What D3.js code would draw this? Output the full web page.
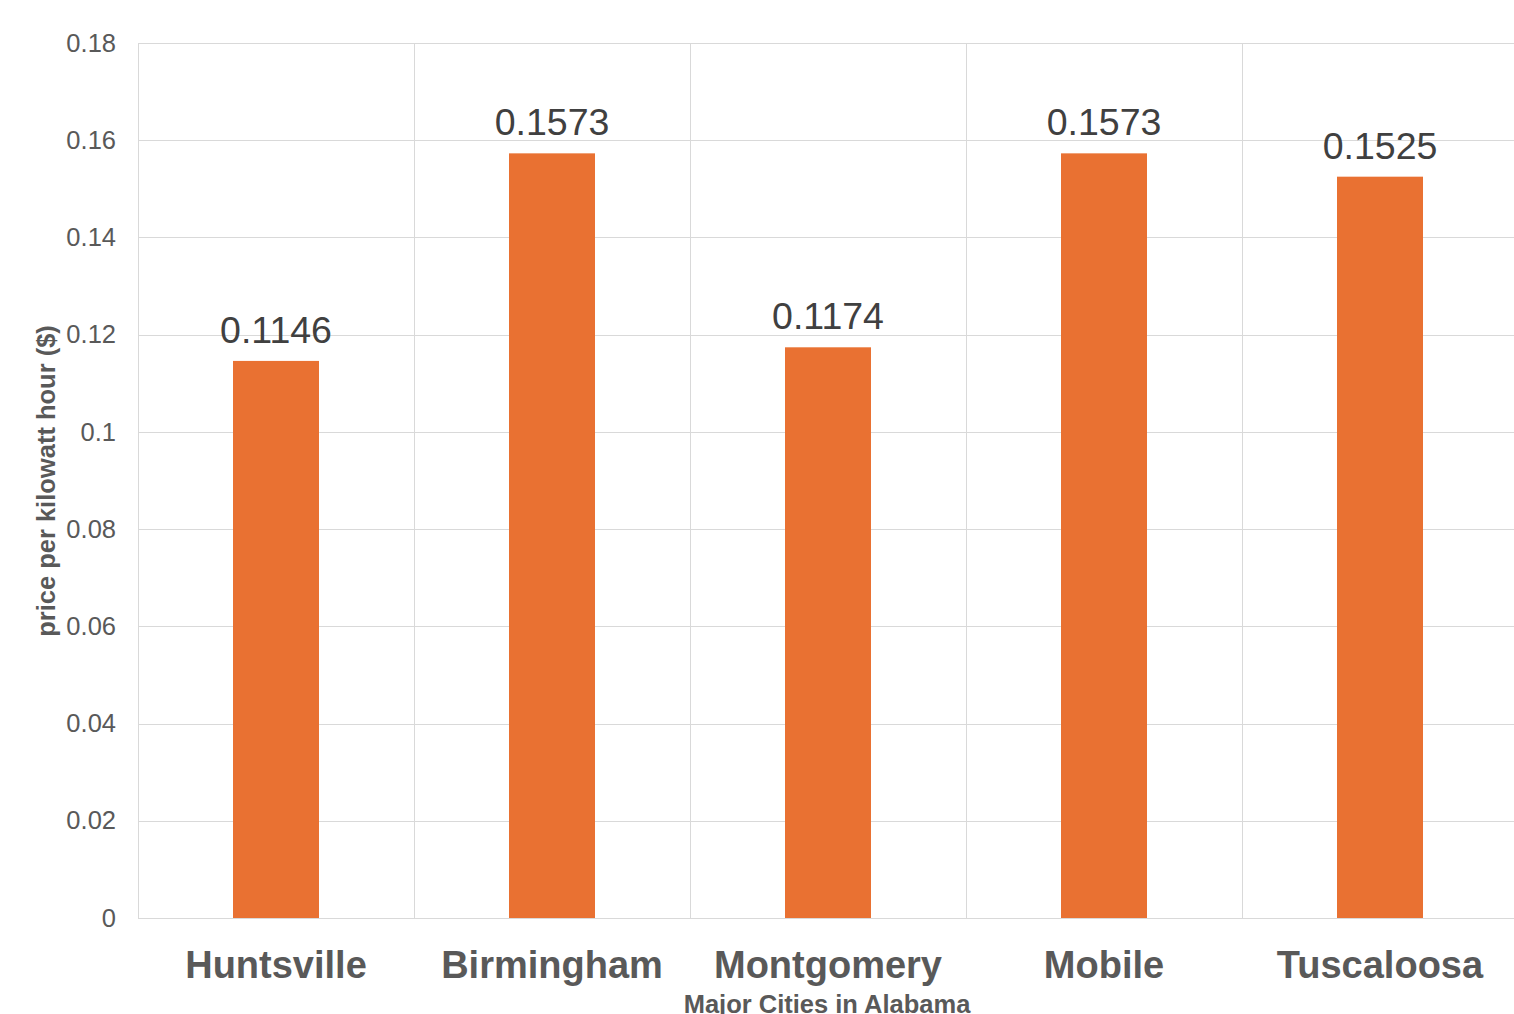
<!DOCTYPE html>
<html>
<head>
<meta charset="utf-8">
<script src="https://cdn.jsdelivr.net/npm/d3@7"></script>
<style>
  html, body { margin: 0; padding: 0; background: #fff; }
  svg { display: block; }
</style>
</head>
<body>
<svg id="chart" width="1514" height="1014"></svg>
<script>
// Electricity price per kWh in major Alabama cities
const cities = ["Huntsville", "Birmingham", "Montgomery", "Mobile", "Tuscaloosa"];
const prices = [0.1146, 0.1573, 0.1174, 0.1573, 0.1525];
const yTicks = [0, 0.02, 0.04, 0.06, 0.08, 0.1, 0.12, 0.14, 0.16, 0.18];
const yTickLabels = ["0", "0.02", "0.04", "0.06", "0.08", "0.1", "0.12", "0.14", "0.16", "0.18"];

const data = cities.map((c, i) => ({ city: c, value: prices[i] }));

const svg = d3.select("#chart");
const margin = { left: 138, top: 43, right: -4, bottom: 96 };
const W = 1514, H = 1014;
const plotW = W - margin.left - margin.right;
const plotH = H - margin.top - margin.bottom;
const font = "Liberation Sans, Arial, sans-serif";

const g = svg.append("g").attr("transform", `translate(${margin.left},${margin.top})`);

const x = d3.scaleBand().domain(cities).range([0, plotW]).paddingInner(0).paddingOuter(0);
const y = d3.scaleLinear().domain([0, 0.18]).range([plotH, 0]);

const gridColor = "#d9d9d9";

// horizontal gridlines
g.append("g").selectAll("line").data(yTicks).join("line")
  .attr("x1", 0).attr("x2", plotW)
  .attr("y1", d => Math.round(y(d)) + 0.5).attr("y2", d => Math.round(y(d)) + 0.5)
  .attr("stroke", gridColor).attr("stroke-width", 1);

// vertical category boundaries
const bounds = cities.map(c => x(c)).concat([plotW]);
g.append("g").selectAll("line").data(bounds).join("line")
  .attr("x1", d => Math.round(d) + 0.5).attr("x2", d => Math.round(d) + 0.5)
  .attr("y1", 0).attr("y2", plotH)
  .attr("stroke", gridColor).attr("stroke-width", 1);

// y tick labels
const yAxis = d3.axisLeft(y).tickValues(yTicks)
  .tickFormat((d, i) => yTickLabels[i]).tickSize(0).tickPadding(22);
const ya = g.append("g").call(yAxis);
ya.select(".domain").remove();
ya.selectAll("text")
  .attr("font-family", font)
  .attr("font-size", 25.5).attr("fill", "#595959");

// bars
const barW = 86;
g.append("g").selectAll("rect").data(data).join("rect")
  .attr("x", d => x(d.city) + (x.bandwidth() - barW) / 2)
  .attr("width", barW)
  .attr("y", d => y(d.value))
  .attr("height", d => y(0) - y(d.value))
  .attr("fill", "#e97132");

// value labels
g.append("g").selectAll("text").data(data).join("text")
  .attr("x", d => x(d.city) + x.bandwidth() / 2)
  .attr("y", d => y(d.value) - 18)
  .attr("text-anchor", "middle")
  .attr("font-family", font)
  .attr("font-size", 37.5).attr("fill", "#404040")
  .text(d => d.value.toFixed(4));

// category labels
g.append("g").selectAll("text").data(cities).join("text")
  .attr("x", d => x(d) + x.bandwidth() / 2)
  .attr("y", plotH + 60)
  .attr("text-anchor", "middle")
  .attr("font-family", font)
  .attr("font-weight", "bold")
  .attr("font-size", 38).attr("fill", "#595959")
  .text(d => d);

// x axis title
svg.append("text")
  .attr("x", 827).attr("y", 1013)
  .attr("text-anchor", "middle")
  .attr("font-family", font)
  .attr("font-weight", "bold")
  .attr("font-size", 25.5).attr("fill", "#595959")
  .text("Major Cities in Alabama");

// y axis title
svg.append("text")
  .attr("transform", "translate(55,481) rotate(-90)")
  .attr("text-anchor", "middle")
  .attr("font-family", font)
  .attr("font-weight", "bold")
  .attr("font-size", 25.5).attr("fill", "#595959")
  .text("price per kilowatt hour  ($)");
</script>
</body>
</html>
